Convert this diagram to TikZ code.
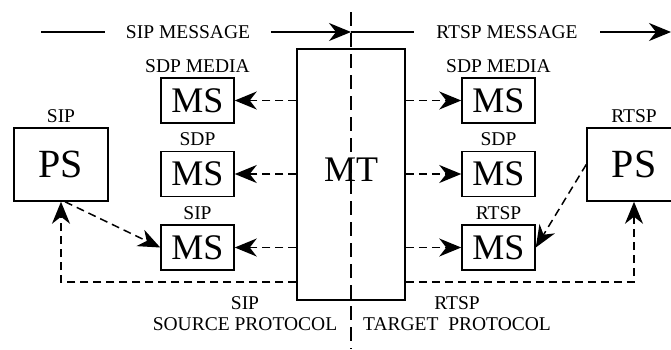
\documentclass[tikz,border=0pt]{standalone}
\usepackage{fontspec}
\setmainfont{Liberation Serif}
\usetikzlibrary{arrows.meta,positioning}

\begin{document}
\begin{tikzpicture}[x=1pt, y=-1pt, line width=1.5pt,
    msbox/.style={draw, minimum width=73pt, minimum height=45pt, inner sep=0pt, font=\fontsize{36}{36}\selectfont},
    psbox/.style={draw, minimum width=94pt, minimum height=73pt, inner sep=0pt, font=\fontsize{40}{40}\selectfont},
    tag/.style={inner sep=0pt, font=\fontsize{19.5}{21}\selectfont},
    msg/.style={inner xsep=20pt, inner ysep=0pt, font=\fontsize{19.5}{21}\selectfont},
    arr/.style={-{Stealth[length=22pt,width=18pt,inset=7pt]}},
    flow/.style={arr, dash pattern=on 8pt off 5pt}]
      \useasboundingbox (0,0) rectangle (671,349);

      % 変換器
      \node [draw, minimum width=108pt, minimum height=251pt, inner sep=0pt] (mt) at (351,174.5) {};
      \node [inner sep=0pt, font=\fontsize{36}{36}\selectfont] (mtlabel) at (351,170) {MT};

      % 境界線
      \coordinate (divtop) at (351,12);
      \coordinate (divbot) at (351,349);
      \draw [dash pattern=on 14pt off 7pt] (divtop) -- (divbot);

      % メッセージ
      \coordinate (sipstart) at (41,32);
      \coordinate (divmid) at (351,32);
      \coordinate (rtspend) at (671,32);
      \node [msg] (msgsip) at (188,32) {SIP MESSAGE};
      \node [msg, inner xsep=22pt] (msgrtsp) at (507,32) {RTSP MESSAGE};
      \draw (sipstart) -- (msgsip.west);
      \draw [arr] (msgsip.east) -- (divmid);
      \draw (divmid) -- (msgrtsp.west);
      \draw [arr] (msgrtsp.east) -- (rtspend);

      % 左側
      \node [msbox] (msl1) at (197.5,100.5) {MS};
      \node [msbox] (msl2) at (197.5,174) {MS};
      \node [msbox] (msl3) at (197.5,247.5) {MS};
      \node [psbox] (psl) at (61,164.5) {PS};
      \node [tag, above=4pt of msl1] (tagl1) {SDP MEDIA};
      \node [tag, above=4pt of msl2] (tagl2) {SDP};
      \node [tag, above=4pt of msl3] (tagl3) {SIP};
      \node [tag, above=4pt of psl] (tagpsl) {SIP};

      % 右側
      \node [msbox] (msr1) at (498.5,100.5) {MS};
      \node [msbox] (msr2) at (498.5,174) {MS};
      \node [msbox] (msr3) at (498.5,247.5) {MS};
      \node [psbox] (psr) at (634,164.5) {PS};
      \node [tag, above=4pt of msr1] (tagr1) {SDP MEDIA};
      \node [tag, above=4pt of msr2] (tagr2) {SDP};
      \node [tag, above=4pt of msr3] (tagr3) {RTSP};
      \node [tag, above=4pt of psr] (tagpsr) {RTSP};

      % 矢印
      \foreach \i in {1,2,3} {
        \draw [flow] (mt.west |- msl\i) -- (msl\i);
        \draw [flow] (mt.east |- msr\i) -- (msr\i);
      }
      \draw [flow] ([xshift=4pt]psl.south) -- (msl3.west);
      \draw [flow] (psr.west) -- (msr3.east);
      \draw [flow] ([yshift=19pt]mt.south west) -| (psl);
      \draw [flow] ([yshift=19pt]mt.south east) -| (psr);

      % 説明
      \node [tag, align=center] (srcproto) at (245,313.5) {SIP\\SOURCE PROTOCOL};
      \node [tag, align=center] (tgtproto) at (457,313.5) {RTSP\\TARGET\hspace{0.5em}PROTOCOL};
    \end{tikzpicture}
\end{document}
